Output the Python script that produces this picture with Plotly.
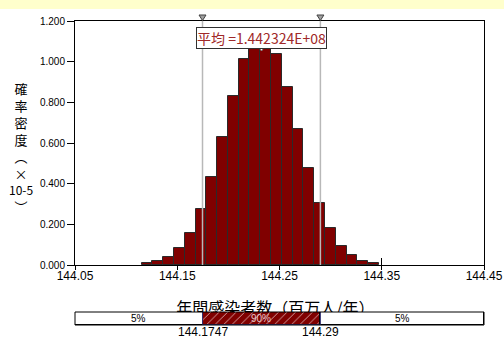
import numpy as np
import plotly.graph_objects as go

# ---- data ----
bin_start = 144.1151          # left edge of first bin (millions)
bin_width = 0.01055
density = [0.008, 0.020, 0.041, 0.084, 0.159, 0.275, 0.434, 0.630, 0.833, 1.013, 1.072,
           1.075, 1.038, 0.874, 0.670, 0.479, 0.306, 0.180, 0.095, 0.048, 0.021, 0.008]
mean_val = 144.2324
p5_val = 144.1747
p95_val = 144.29
p5_label = "144.1747"
p95_label = "144.29"
x_range = [144.05, 144.45]
x_ticks = [144.05, 144.15, 144.25, 144.35, 144.45]
x_ticktext = ["144.05", "144.15", "144.25", "144.35", "144.45"]
y_ticks = [0.0, 0.2, 0.4, 0.6, 0.8, 1.0, 1.2]
seg_labels = ["5%", "90%", "5%"]
x_title = "年間感染者数（百万人/年）"
y_title_lines = ["確", "率", "密", "度", "︵", "×", "<span style='font-size:12px'>10-5</span>", "︶"]

centers = bin_start + bin_width * (np.arange(len(density)) + 0.5)

FONT = "Liberation Sans, Noto Sans CJK JP, sans-serif"
CJK = "Noto Sans CJK JP, Liberation Sans, sans-serif"

# figure geometry (px)
W, H = 504, 338
ML, MR, MT, MB = 75, 20, 21, 13
PW, PH = W - ML - MR, H - MT - MB


def py(yp):  # pixel-from-top -> paper y
    return (H - MB - yp) / PH


def px(xp):  # pixel-from-left -> paper x
    return (xp - ML) / PW


fig = go.Figure()
fig.add_trace(go.Bar(
    x=centers, y=density, width=bin_width,
    marker=dict(color="#800000", line=dict(color="#2a2a2a", width=1)),
    xaxis="x", yaxis="y", hoverinfo="skip", showlegend=False))

# x title as text in its own subplot (drawn beneath the percentile bar)
fig.add_trace(go.Scatter(
    x=[(x_range[0] + x_range[1]) / 2 - 0.004], y=[0.39], mode="text", text=[x_title],
    textfont=dict(size=16, family=CJK, color="black"),
    xaxis="x2", yaxis="y2", hoverinfo="skip", showlegend=False))

# empty trace for overlay tick axis
fig.add_trace(go.Scatter(x=[None], y=[None], xaxis="x3", yaxis="y", showlegend=False))

# percentile bar
segments = [(x_range[0], p5_val), (p5_val, p95_val), (p95_val, x_range[1])]
for i, (a, b) in enumerate(segments):
    if i == 1:
        marker = dict(color="#800000", line=dict(color="#303070", width=1),
                      pattern=dict(shape="/", fgcolor="#d8a8a8", bgcolor="#800000",
                                   size=6, solidity=0.15))
    else:
        marker = dict(color="white", line=dict(color="black", width=1))
    fig.add_trace(go.Bar(
        x=[b - a], base=[a], y=[0], orientation="h", width=1, offset=-0.5, marker=marker,
        cliponaxis=False, xaxis="x4", yaxis="y4", hoverinfo="skip", showlegend=False))

shapes = []
shapes.append(dict(type="rect", xref="paper", yref="paper", x0=px(-5), x1=px(W + 5),
                   y0=py(9), y1=py(-5), fillcolor="#FFFFCC", line=dict(width=0),
                   layer="below"))
for p in (p5_val, p95_val):
    shapes.append(dict(type="line", xref="x", yref="y domain", x0=p, x1=p, y0=0, y1=1,
                       line=dict(color="#b8b8b8", width=1.5), layer="above"))
    shapes.append(dict(type="path", xref="x", yref="paper", xsizemode="pixel", ysizemode="pixel",
                       xanchor=p, yanchor=1, path="M-3.5,6 L3.5,6 L0,0.5 Z",
                       fillcolor="#a0a0a0", line=dict(color="#404040", width=1)))
    shapes.append(dict(type="line", xref="x4", yref="y4 domain", x0=p, x1=p, y0=0, y1=1,
                       line=dict(color="#303070", width=1), layer="above"))
shapes.append(dict(type="path", xref="x", yref="paper", xsizemode="pixel", ysizemode="pixel",
                   xanchor=mean_val, yanchor=py(47), path="M-3,0 L3,0 L0,-4 Z",
                   fillcolor="white", line=dict(color="#808080", width=1)))
# frame of the percentile bar
shapes.append(dict(type="rect", xref="x4 domain", yref="y4 domain", x0=0, x1=1, y0=0, y1=1,
                   line=dict(color="black", width=1), fillcolor="rgba(0,0,0,0)",
                   layer="above"))

annotations = []
annotations.append(dict(
    x=mean_val, xref="x", y=py(38), yref="paper", xanchor="center", yanchor="middle",
    showarrow=False, text=f"平均 ={mean_val * 1e6:.6E}",
    font=dict(size=14, family=CJK, color="#a02828"),
    bgcolor="white", bordercolor="#303030", borderwidth=1, borderpad=0))
annotations.append(dict(
    x=px(21), y=py(147), xref="paper", yref="paper", xanchor="center", yanchor="middle",
    showarrow=False, text="<br>".join(y_title_lines),
    font=dict(size=13, family=CJK, color="black"), align="center"))
for (a, b), lab in zip(segments, seg_labels):
    annotations.append(dict(
        x=(a + b) / 2, xref="x4", y=0, yref="y4", xanchor="center", yanchor="middle",
        showarrow=False, text=lab,
        font=dict(size=10, family=FONT, color="#e8c8c8" if lab == "90%" else "black")))
for p, lab in ((p5_val, p5_label), (p95_val, p95_label)):
    annotations.append(dict(
        x=p, xref="x4", y=py(331.5), yref="paper", xanchor="center", yanchor="middle",
        showarrow=False, text=lab, font=dict(size=12, family=FONT, color="black"),
        borderpad=0))

fig.update_layout(
    template="none",
    width=W, height=H, margin=dict(l=ML, r=MR, t=MT, b=MB, autoexpand=False),
    paper_bgcolor="white", plot_bgcolor="rgba(0,0,0,0)", bargap=0, barmode="overlay",
    font=dict(family=FONT, color="black"), showlegend=False,
    xaxis=dict(domain=[0, 1], range=x_range, tickvals=x_ticks, ticktext=x_ticktext,
               ticks="inside", ticklen=7, tickcolor="black", showline=True, linecolor="black",
               linewidth=1, mirror=True, showgrid=False, zeroline=False, layer="below traces",
               tickfont=dict(size=12), anchor="y", automargin=False),
    xaxis3=dict(overlaying="x", matches="x", range=x_range, tickvals=x_ticks, ticks="outside",
                ticklen=4, tickcolor="black", showticklabels=False, showline=False,
                showgrid=False, zeroline=False, anchor="y", side="bottom", automargin=False),
    yaxis=dict(domain=[py(265), 1], range=[0, 1.2], tickvals=y_ticks, tickformat=".3f",
               ticks="outside", ticklen=7, tickcolor="black", showline=True, linecolor="black",
               linewidth=1, mirror=True, showgrid=False, zeroline=False,
               tickfont=dict(size=10), anchor="x", automargin=False),
    xaxis2=dict(domain=[0, 1], range=x_range, visible=False, anchor="y2", automargin=False),
    yaxis2=dict(domain=[py(324), py(289)], range=[0, 1], visible=False, anchor="x2",
                automargin=False),
    xaxis4=dict(domain=[0, 1], range=x_range, visible=False, anchor="y4", automargin=False),
    yaxis4=dict(domain=[py(325), py(312)], range=[-0.5, 0.5], visible=False, anchor="x4",
                automargin=False),
    shapes=shapes, annotations=annotations,
)

fig.write_html("out.html")
